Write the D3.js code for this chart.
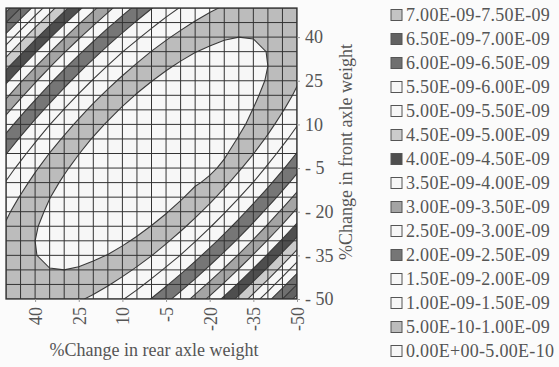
<!DOCTYPE html>
<html>
<head>
<meta charset="utf-8">
<script src="https://cdn.jsdelivr.net/npm/d3@7"></script>
<style>
  html, body { margin: 0; padding: 0; background: #fbfbfb; }
  svg { display: block; }
  text { font-family: "Liberation Serif", "Times New Roman", serif; fill: #555; }
</style>
</head>
<body>
<svg id="chart" width="559" height="367"></svg>
<script>
// ---------- DATA ----------
// rear axle weight change (columns, left -> right)
const rearCats = [50,45,40,35,30,25,20,15,10,5,0,-5,-10,-15,-20,-25,-30,-35,-40,-45,-50];
// front axle weight change (rows, top -> bottom)
const frontCats = [50,45,40,35,30,25,20,15,10,5,0,-5,-10,-15,-20,-25,-30,-35,-40,-45,-50];
const rearTicks = [40,25,10,-5,-20,-35,-50];
const frontTicks = [40,25,10,-5,-20,-35,-50];

// surface values, in units of 1E-09 (row = front change, col = rear change)
const row00 = [7.20,6.50,5.84,5.22,4.64,4.11,3.61,3.15,2.73,2.36,2.02,1.72,1.47,1.25,1.08,0.95,0.85,0.80,0.78,0.81,0.88];
const row01 = [6.50,5.83,5.20,4.62,4.07,3.56,3.10,2.67,2.29,1.94,1.64,1.37,1.15,0.97,0.82,0.72,0.66,0.64,0.65,0.71,0.81];
const row02 = [5.84,5.20,4.61,4.05,3.54,3.06,2.63,2.23,1.88,1.57,1.29,1.06,0.87,0.72,0.61,0.53,0.50,0.51,0.56,0.65,0.79];
const row03 = [5.22,4.62,4.05,3.53,3.04,2.60,2.20,1.84,1.51,1.23,0.99,0.79,0.63,0.51,0.43,0.39,0.39,0.43,0.51,0.64,0.80];
const row04 = [4.64,4.07,3.54,3.04,2.59,2.18,1.81,1.48,1.19,0.94,0.73,0.56,0.43,0.34,0.29,0.28,0.32,0.39,0.50,0.66,0.85];
const row05 = [4.11,3.56,3.06,2.60,2.18,1.80,1.46,1.16,0.90,0.68,0.51,0.37,0.27,0.21,0.20,0.22,0.28,0.39,0.53,0.72,0.95];
const row06 = [3.61,3.10,2.63,2.20,1.81,1.46,1.15,0.88,0.66,0.47,0.32,0.22,0.15,0.13,0.14,0.20,0.29,0.43,0.61,0.82,1.08];
const row07 = [3.15,2.67,2.23,1.84,1.48,1.16,0.88,0.65,0.45,0.30,0.18,0.11,0.07,0.08,0.13,0.21,0.34,0.51,0.72,0.97,1.25];
const row08 = [2.73,2.29,1.88,1.51,1.19,0.90,0.66,0.45,0.29,0.16,0.08,0.04,0.04,0.07,0.15,0.27,0.43,0.58,0.87,1.15,1.47];
const row09 = [2.36,1.94,1.57,1.23,0.94,0.68,0.47,0.30,0.16,0.07,0.02,0.01,0.04,0.11,0.22,0.37,0.52,0.79,1.06,1.37,1.72];
const row10 = [2.02,1.64,1.29,0.99,0.73,0.51,0.32,0.18,0.08,0.02,0.00,0.02,0.08,0.18,0.32,0.45,0.66,0.99,1.29,1.64,2.02];
const row11 = [1.72,1.37,1.06,0.79,0.56,0.37,0.22,0.11,0.04,0.01,0.02,0.07,0.16,0.30,0.42,0.58,0.94,1.23,1.57,1.94,2.36];
const row12 = [1.47,1.15,0.87,0.63,0.43,0.27,0.15,0.07,0.04,0.04,0.08,0.16,0.29,0.45,0.58,0.90,1.19,1.51,1.88,2.29,2.73];
const row13 = [1.25,0.97,0.72,0.51,0.34,0.21,0.13,0.08,0.07,0.11,0.18,0.30,0.45,0.65,0.88,1.16,1.48,1.84,2.23,2.67,3.15];
const row14 = [1.08,0.82,0.61,0.43,0.29,0.20,0.14,0.13,0.15,0.22,0.32,0.47,0.66,0.88,1.15,1.46,1.81,2.20,2.63,3.10,3.61];
const row15 = [0.95,0.72,0.53,0.39,0.28,0.22,0.20,0.21,0.27,0.37,0.51,0.68,0.90,1.16,1.46,1.80,2.18,2.60,3.06,3.56,4.11];
const row16 = [0.85,0.66,0.50,0.39,0.32,0.28,0.29,0.34,0.43,0.56,0.73,0.94,1.19,1.48,1.81,2.18,2.59,3.04,3.54,4.07,4.64];
const row17 = [0.80,0.64,0.51,0.43,0.39,0.39,0.43,0.51,0.63,0.79,0.99,1.23,1.51,1.84,2.20,2.60,3.04,3.53,4.05,4.62,5.22];
const row18 = [0.79,0.65,0.56,0.51,0.50,0.53,0.61,0.72,0.87,1.06,1.29,1.57,1.88,2.23,2.63,3.06,3.54,4.05,4.61,5.20,5.84];
const row19 = [0.81,0.71,0.65,0.64,0.66,0.72,0.82,0.97,1.15,1.37,1.64,1.94,2.29,2.67,3.10,3.56,4.07,4.62,5.20,5.83,6.50];
const row20 = [0.88,0.81,0.78,0.80,0.85,0.95,1.08,1.25,1.47,1.72,2.02,2.36,2.73,3.15,3.61,4.11,4.64,5.22,5.84,6.50,7.20];
const surfaceRows = [row00,row01,row02,row03,row04,row05,row06,row07,row08,row09,row10,
                     row11,row12,row13,row14,row15,row16,row17,row18,row19,row20];

// band lower bounds (units of 1E-09) and legend labels (lowest first)
const bandThresholds = [0,0.5,1,1.5,2,2.5,3,3.5,4,4.5,5,5.5,6,6.5,7];
const bandLabels = ["0.00E+00-5.00E-10","5.00E-10-1.00E-09","1.00E-09-1.50E-09","1.50E-09-2.00E-09",
  "2.00E-09-2.50E-09","2.50E-09-3.00E-09","3.00E-09-3.50E-09","3.50E-09-4.00E-09",
  "4.00E-09-4.50E-09","4.50E-09-5.00E-09","5.00E-09-5.50E-09","5.50E-09-6.00E-09",
  "6.00E-09-6.50E-09","6.50E-09-7.00E-09","7.00E-09-7.50E-09"];
const bandColors = ["#f7f7f7","#bcbcbc","#f7f7f7","#f7f7f7","#767676","#f7f7f7","#a4a4a4","#f7f7f7",
  "#4e4e4e","#cbcbcb","#f7f7f7","#f7f7f7","#707070","#626262","#c4c4c4"];

// ---------- LAYOUT ----------
const svg = d3.select("#chart");
const L = 6, T = 8, R = 297, B = 299;
const nx = rearCats.length, ny = frontCats.length;

const xPos = d3.scalePoint().domain(rearCats).range([L, R]);
const yPos = d3.scalePoint().domain(frontCats).range([T, B]);
// grid coordinate scales for d3.contours output (value k sits at k+0.5)
const gx = d3.scaleLinear().domain([0.5, nx - 0.5]).range([L, R]);
const gy = d3.scaleLinear().domain([0.5, ny - 0.5]).range([T, B]);

svg.append("clipPath").attr("id", "plotClip")
  .append("rect").attr("x", L).attr("y", T).attr("width", R - L).attr("height", B - T);

const plot = svg.append("g").attr("clip-path", "url(#plotClip)");
plot.append("rect").attr("x", L).attr("y", T).attr("width", R - L).attr("height", B - T)
  .attr("fill", bandColors[0]);

const flat = surfaceRows.flat();
const contours = d3.contours().size([nx, ny]).thresholds(bandThresholds)(flat);
const path = d3.geoPath(d3.geoTransform({
  point(x, y) { this.stream.point(gx(x), gy(y)); }
}));

plot.selectAll("path.band").data(contours).join("path")
  .attr("class", "band")
  .attr("d", path)
  .attr("fill", (d, i) => bandColors[i])
  .attr("stroke", (d, i) => i === 0 ? "none" : "#3a3a3a")
  .attr("stroke-width", 1.1);

// grid lines
plot.selectAll("line.vx").data(rearCats).join("line")
  .attr("x1", d => xPos(d)).attr("x2", d => xPos(d)).attr("y1", T).attr("y2", B)
  .attr("stroke", "#333").attr("stroke-width", 1);
plot.selectAll("line.hy").data(frontCats).join("line")
  .attr("y1", d => yPos(d)).attr("y2", d => yPos(d)).attr("x1", L).attr("x2", R)
  .attr("stroke", "#333").attr("stroke-width", 1);
svg.append("rect").attr("x", L).attr("y", T).attr("width", R - L).attr("height", B - T)
  .attr("fill", "none").attr("stroke", "#333").attr("stroke-width", 1.3);

// y axis (right)
const yAxis = d3.axisRight(yPos).tickValues(frontTicks).tickSize(3).tickPadding(5)
  .tickFormat(d => d < 0 ? "- " + Math.abs(d) : String(d));
const gyA = svg.append("g").attr("transform", `translate(${R},0)`).call(yAxis);
gyA.select(".domain").remove();
gyA.selectAll(".tick line").attr("stroke", "#999");
gyA.selectAll(".tick text").attr("font-size", 18).attr("fill", "#555")
  .style("font-family", "Liberation Serif, serif");

// x axis (bottom), rotated labels
const xAxis = d3.axisBottom(xPos).tickValues(rearTicks).tickSize(3).tickPadding(5);
const gxA = svg.append("g").attr("transform", `translate(0,${B})`).call(xAxis);
gxA.select(".domain").remove();
gxA.selectAll(".tick line").attr("stroke", "#999");
gxA.selectAll(".tick text").attr("font-size", 18).attr("fill", "#555")
  .style("font-family", "Liberation Serif, serif")
  .attr("text-anchor", "end").attr("dy", "0.35em")
  .attr("transform", "rotate(-90)").attr("x", -8).attr("y", 0);

// axis titles
svg.append("text").attr("x", 154).attr("y", 356).attr("text-anchor", "middle")
  .attr("font-size", 18).text("%Change in rear axle weight");
svg.append("text").attr("transform", "translate(352,152) rotate(-90)")
  .attr("text-anchor", "middle").attr("font-size", 18).text("%Change in front axle weight");

// legend (highest band on top)
const legendItems = bandLabels.map((lab, i) => ({ lab, col: bandColors[i] })).reverse();
const lg = svg.append("g");
const item = lg.selectAll("g").data(legendItems).join("g")
  .attr("transform", (d, i) => `translate(391,${15 + i * 24})`);
item.append("rect").attr("x", 0).attr("y", -5.5).attr("width", 11).attr("height", 11)
  .attr("fill", d => d.col).attr("stroke", "#555").attr("stroke-width", 1);
item.append("text").attr("x", 15).attr("y", 0).attr("dy", "0.35em")
  .attr("font-size", 18).style("letter-spacing", "0.3px").text(d => d.lab);
</script>
</body>
</html>
